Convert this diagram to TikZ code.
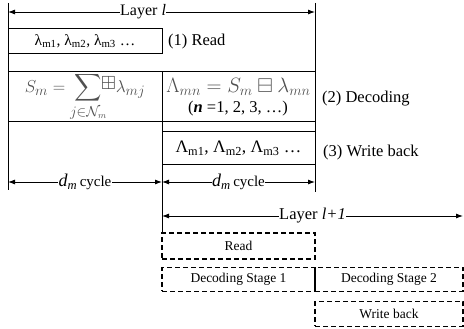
\documentclass[tikz,border=0pt]{standalone}
\usepackage{amsmath,amssymb}
\usepackage{fontspec}
\setmainfont{Liberation Serif}
\usetikzlibrary{arrows.meta}
\definecolor{formgray}{RGB}{80,80,80}
\begin{document}
\begin{tikzpicture}[x=1pt,y=-1pt,
  guide/.style={line width=0.9pt},
  sbox/.style={draw,line width=1pt,inner sep=0pt},
  dbox/.style={draw,line width=1.3pt,dash pattern=on 5pt off 3pt,inner sep=0pt,font=\fontsize{13.5}{14}\selectfont},
  dim/.style={line width=0.9pt,{Latex[length=7pt,width=5pt]}-{Latex[length=7pt,width=5pt]}},
  lab/.style={fill=white,inner sep=0.5pt},
  side/.style={anchor=west,inner sep=0pt,font=\fontsize{16.5}{17}\selectfont},
  bigtxt/.style={font=\fontsize{15.5}{16}\selectfont}]
\useasboundingbox (0,0) rectangle (464,329);
% guide lines
\coordinate (L0) at (8,3);   \coordinate (L1) at (8,190);
\coordinate (R0) at (315,3); \coordinate (R1) at (315,192);
\coordinate (M0) at (162,72); \coordinate (M1) at (162,233);
\draw[guide] (L0) -- (L1);
\draw[guide] (R0) -- (R1);
\draw[guide] (M0) -- (M1);
% Layer l
\coordinate (A0) at (8,12); \coordinate (A1) at (315,12);
\draw[dim] (A0) -- node[lab,pos=0.44,font=\fontsize{16}{17}\selectfont]{Layer \textit{l}} (A1);
% boxes
\node[sbox,minimum width=154pt,minimum height=25pt,bigtxt] (b1) at (85,41.5)
  {λ\textsubscript{m1}, λ\textsubscript{m2}, λ\textsubscript{m3} …};
\node[side] (t1) at (168,42) {(1) Read};
\node[sbox,minimum width=154pt,minimum height=50pt,text=formgray] (dl) at (85,97)
  {\fontsize{19}{20}\selectfont$\displaystyle S_m=\sum_{j\in\mathcal{N}_m}\mkern-9mu\raisebox{3pt}{$\boxplus$}\lambda_{mj}$};
\node[sbox,minimum width=153pt,minimum height=50pt] (dr) at (238.5,97) {};
\node[text=formgray,inner sep=0pt] (f2) at (238.5,87)
  {\fontsize{20}{21}\selectfont$\Lambda_{mn}=S_m\boxminus\lambda_{mn}$};
\node[inner sep=0pt,font=\fontsize{16.5}{17}\selectfont] (f3) at (238,108.5)
  {(\textbf{\textit{n}} =1, 2, 3, …)};
\node[side] (t2) at (322,99) {(2) Decoding};
\node[sbox,minimum width=153pt,minimum height=33pt,font=\fontsize{17.5}{18}\selectfont] (b3) at (238.5,148.5)
  {Λ\textsubscript{m1}, Λ\textsubscript{m2}, Λ\textsubscript{m3} …};
\node[side] (t3) at (323,153) {(3) Write back};
% d_m cycle
\coordinate (C0) at (8,182); \coordinate (C1) at (162,182); \coordinate (C2) at (315,182);
\draw[dim] (C0) -- node[lab]{{\fontsize{18}{18}\selectfont\textit{d}\textsubscript{\textit{m}}} {\fontsize{15}{16}\selectfont cycle}} (C1);
\draw[dim] (C1) -- node[lab]{{\fontsize{18}{18}\selectfont\textit{d}\textsubscript{\textit{m}}} {\fontsize{15}{16}\selectfont cycle}} (C2);
% Layer l+1
\coordinate (D0) at (162,216); \coordinate (D1) at (463,216);
\draw[dim] (D0) -- node[lab,font=\fontsize{16.5}{17}\selectfont]{Layer \textit{l+1}} (D1);
% dashed boxes
\node[dbox,minimum width=153pt,minimum height=26pt] (rd) at (238.5,246) {Read};
\node[dbox,minimum width=153pt,minimum height=23.5pt] (ds1) at (238.5,279.5) {Decoding Stage 1};
\node[dbox,minimum width=148pt,minimum height=23.5pt] (ds2) at (389,279.5) {Decoding Stage 2};
\node[dbox,minimum width=148pt,minimum height=24.5pt] (wb) at (389,314) {Write back};
\draw[line width=1.3pt] (ds1.north east) -- (ds1.south east);
\end{tikzpicture}
\end{document}
